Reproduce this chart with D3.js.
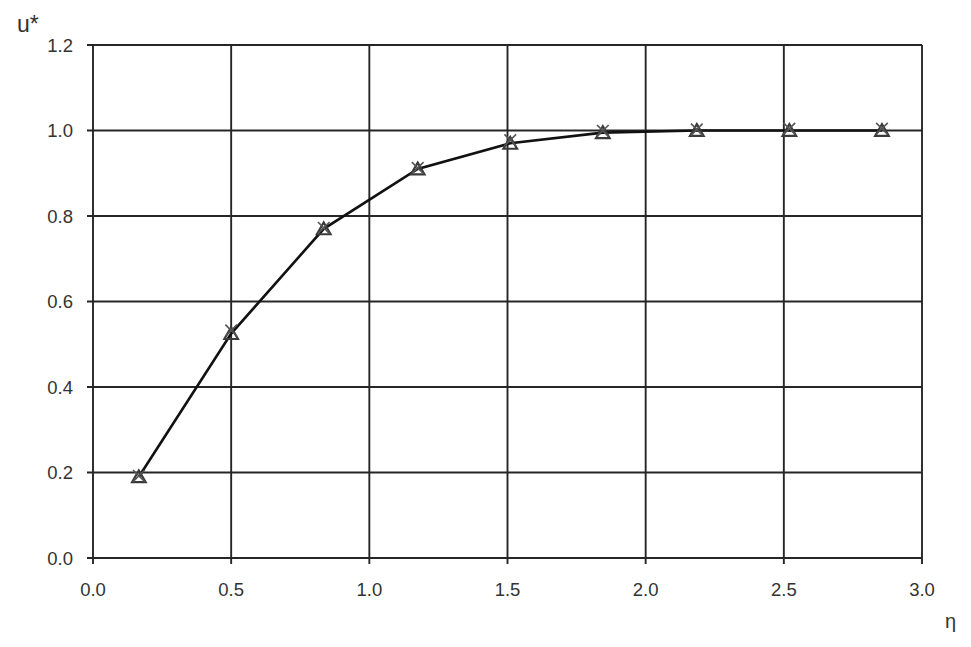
<!DOCTYPE html>
<html>
<head>
<meta charset="utf-8">
<script src="https://cdn.jsdelivr.net/npm/d3@7"></script>
<style>
html,body{margin:0;padding:0;background:#fff;}
svg text{font-family:"Liberation Sans",Arial,sans-serif;fill:#333;}
</style>
</head>
<body>
<svg id="chart" width="971" height="647"></svg>
<script>
const etaValues = [0.166, 0.50, 0.835, 1.175, 1.51, 1.845, 2.185, 2.52, 2.855];
const uTriangle = [0.19, 0.525, 0.77, 0.91, 0.97, 0.995, 1.0, 1.0, 1.0];
const uCross    = [0.19, 0.53, 0.77, 0.91, 0.975, 0.997, 1.0, 1.002, 1.002];
const xTicks = [0.0, 0.5, 1.0, 1.5, 2.0, 2.5, 3.0];
const yTicks = [0.0, 0.2, 0.4, 0.6, 0.8, 1.0, 1.2];
const xLabel = "η";
const yLabel = "u*";

const svg = d3.select("#chart");
const x = d3.scaleLinear().domain([0, 3]).range([93, 922]);
const y = d3.scaleLinear().domain([0, 1.2]).range([558, 45]);

const grid = svg.append("g");
grid.selectAll("line.h").data(yTicks).enter().append("line")
  .attr("x1", x(0) - 6).attr("x2", x(3))
  .attr("y1", d => y(d)).attr("y2", d => y(d))
  .attr("stroke", "#262626").attr("stroke-width", 1.9);
grid.selectAll("line.v").data(xTicks).enter().append("line")
  .attr("x1", d => x(d)).attr("x2", d => x(d))
  .attr("y1", y(1.2)).attr("y2", y(0) + 6)
  .attr("stroke", "#262626").attr("stroke-width", 1.9);

svg.append("g").selectAll("text").data(yTicks).enter().append("text")
  .attr("x", 73).attr("y", d => y(d)).attr("dy", "0.36em")
  .attr("text-anchor", "end").attr("font-size", 18.5)
  .text(d => d.toFixed(1));
svg.append("g").selectAll("text").data(xTicks).enter().append("text")
  .attr("x", d => x(d)).attr("y", 589).attr("dy", "0.36em")
  .attr("text-anchor", "middle").attr("font-size", 18.5)
  .text(d => d.toFixed(1));

svg.append("text").attr("x", 17).attr("y", 32).attr("font-size", 23).text(yLabel);
svg.append("text").attr("x", 945).attr("y", 628).attr("font-size", 20).text(xLabel);

const pts = etaValues.map((e, i) => [e, uTriangle[i]]);
svg.append("path").datum(pts)
  .attr("fill", "none").attr("stroke", "#111").attr("stroke-width", 2.6)
  .attr("d", d3.line().x(d => x(d[0])).y(d => y(d[1])));

const tri = d3.symbol().type(d3.symbolTriangle).size(80);
svg.append("g").selectAll("path").data(etaValues).enter().append("path")
  .attr("transform", (d, i) => `translate(${x(d)},${y(uTriangle[i]) + 1.5})`)
  .attr("d", tri()).attr("fill", "none").attr("stroke", "#3a3a3a").attr("stroke-width", 2.2);

const cross = d3.symbol().type(d3.symbolTimes).size(90);
svg.append("g").selectAll("path").data(etaValues).enter().append("path")
  .attr("transform", (d, i) => `translate(${x(d)},${y(uCross[i]) - 1})`)
  .attr("d", cross()).attr("fill", "none").attr("stroke", "#555").attr("stroke-width", 1.6);
</script>
</body>
</html>
